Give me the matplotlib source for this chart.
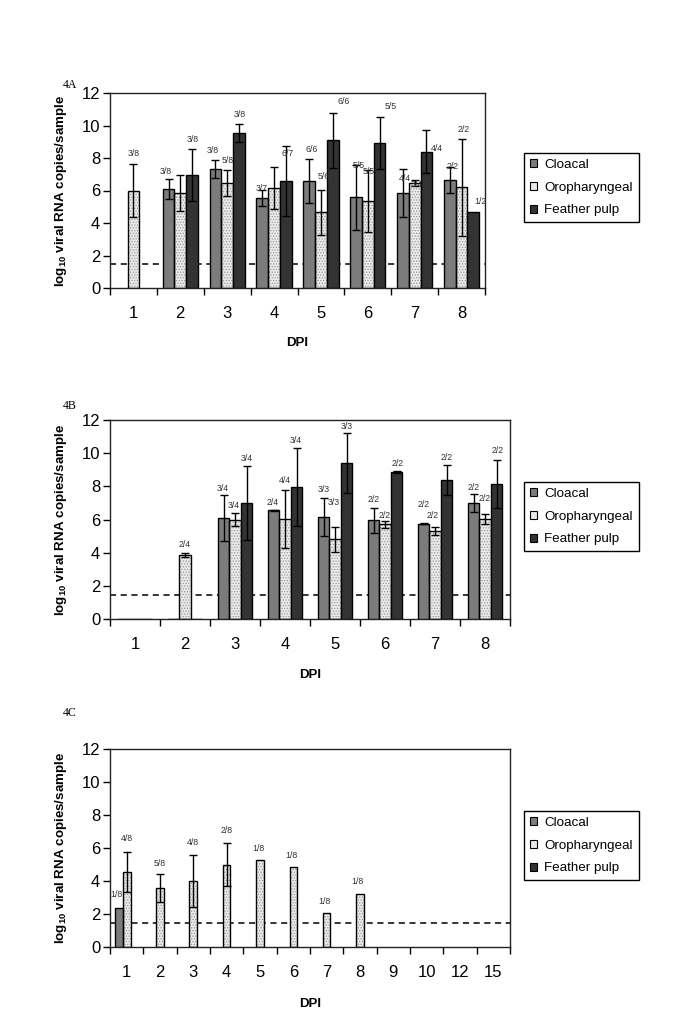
import numpy as np
import matplotlib
matplotlib.use("Agg")
import matplotlib.pyplot as plt
from matplotlib.patches import Patch

plt.rcParams['font.family'] = ['Liberation Sans', 'DejaVu Sans']
plt.rcParams['mathtext.fontset'] = 'custom'
plt.rcParams['mathtext.bf'] = 'Liberation Sans:bold'
plt.rcParams['mathtext.rm'] = 'Liberation Sans'
plt.rcParams['hatch.linewidth'] = 0.6

nan = np.nan

# ---------------- data ----------------
series = ["Cloacal", "Oropharyngeal", "Feather pulp"]
detect_limit = 1.45

# 4A
days_a = ['1', '2', '3', '4', '5', '6', '7', '8']
cloacal_a = [nan, 6.1, 7.3, 5.55, 6.6, 5.6, 5.85, 6.65]
cloacal_a_err = [nan, 0.6, 0.55, 0.5, 1.35, 2.0, 1.5, 0.8]
oro_a = [6.0, 5.85, 6.45, 6.15, 4.65, 5.35, 6.45, 6.2]
oro_a_err = [1.65, 1.1, 0.8, 1.3, 1.4, 1.9, 0.2, 3.0]
feather_a = [nan, 6.95, 9.55, 6.6, 9.1, 8.95, 8.4, 4.7]
feather_a_err = [nan, 1.6, 0.55, 2.15, 1.7, 1.6, 1.3, nan]
lab_a = ["3/8", "3/8", "3/8", "3/8", "5/8", "3/8", "3/7", "6/7", "6/6", "5/6",
         "6/6", "5/5", "5/5", "5/5", "4/4", "3/4", "4/4", "2/2", "2/2", "1/2"]
lab_a_x = [0.0, 0.69, 1.26, 1.69, 2.01, 2.26, 2.73, 3.3, 3.8, 4.05,
           4.48, 4.8, 5.01, 5.48, 5.8, 6.05, 6.48, 6.8, 7.05, 7.41]
lab_a_y = [8.28, 7.15, 9.14, 8.48, 7.83, 10.69, 6.13, 8.28, 8.54, 6.89,
           11.45, 7.56, 7.15, 11.18, 6.75, 6.34, 8.59, 7.5, 9.75, 5.31]

# 4B
days_b = ['1', '2', '3', '4', '5', '6', '7', '8']
cloacal_b = [0, 0, 6.1, 6.55, 6.15, 5.95, 5.75, 7.0]
cloacal_b_err = [nan, nan, 1.4, 0.05, 1.15, 0.75, 0.05, 0.55]
oro_b = [0, 3.85, 6.0, 6.05, 4.8, 5.7, 5.3, 6.05]
oro_b_err = [nan, 0.1, 0.4, 1.75, 0.75, 0.2, 0.25, 0.3]
feather_b = [0, 0, 7.0, 7.95, 9.4, 8.85, 8.4, 8.15]
feather_b_err = [nan, nan, 2.25, 2.35, 1.8, 0.05, 0.9, 1.45]
lab_b = ["2/4", "3/4", "3/4", "3/4", "2/4", "4/4", "3/4", "3/3", "3/3", "3/3",
         "2/2", "2/2", "2/2", "2/2", "2/2", "2/2", "2/2", "2/2", "2/2"]
lab_b_x = [1.0, 1.76, 1.98, 2.23, 2.76, 2.99, 3.21, 3.78, 3.98, 4.23,
           4.78, 5.0, 5.25, 5.78, 5.96, 6.23, 6.77, 7.0, 7.25]
lab_b_y = [4.5, 7.88, 6.87, 9.69, 7.02, 8.34, 10.79, 7.78, 7.02, 11.6,
           7.18, 6.23, 9.39, 6.91, 6.27, 9.73, 7.94, 7.28, 10.15]

# 4C
days_c = ['1', '2', '3', '4', '5', '6', '7', '8', '9', '10', '12', '15']
cloacal_c = [2.35, nan, nan, nan, nan, nan, nan, nan, nan, nan, nan, nan]
cloacal_c_err = [nan] * 12
oro_c = [4.55, 3.55, 4.0, 5.0, 5.25, 4.85, 2.05, 3.2, nan, nan, nan, nan]
oro_c_err = [1.2, 0.85, 1.55, 1.3, nan, nan, nan, nan, nan, nan, nan, nan]
feather_c = [nan] * 12
feather_c_err = [nan] * 12
lab_c = ["1/8", "4/8", "5/8", "4/8", "2/8", "1/8", "1/8", "1/8", "1/8"]
lab_c_x = [-0.3, 0.0, 1.0, 1.98, 3.0, 3.95, 4.95, 5.93, 6.93]
lab_c_y = [3.18, 6.58, 5.06, 6.31, 7.08, 5.97, 5.56, 2.77, 3.95]

# ---------------- style ----------------
W, H = 685, 1026
col_clo = '#7c7c7c'
col_oro = '#e9e9e9'
col_fea = '#333333'

fig = plt.figure(figsize=(W / 100, H / 100), dpi=100)


def make_axes(left, right, top, bottom):
    return fig.add_axes([left / W, 1 - bottom / H, (right - left) / W, (bottom - top) / H])


def panel(ax, days, vals, errs, width, labs, lab_x, lab_y, xlab_off):
    n = len(days)
    x = np.arange(n)
    offs = [-width, 0, width]
    cols = [col_clo, col_oro, col_fea]
    for k in range(3):
        v = np.array(vals[k], dtype=float)
        e = np.array(errs[k], dtype=float)
        xs = x + offs[k]
        if k == 1:
            ax.bar(xs, v, width, color=col_oro, edgecolor='#9a9a9a', hatch='......',
                   linewidth=0, zorder=2)
            ax.bar(xs, v, width, color='none', edgecolor='black', linewidth=1.0, zorder=3)
        else:
            ax.bar(xs, v, width, color=cols[k], edgecolor='black', linewidth=1.0, zorder=3)
        m = ~np.isnan(e) & ~np.isnan(v)
        if m.any():
            ax.errorbar(xs[m], v[m], yerr=e[m], fmt='none', ecolor='black',
                        elinewidth=1.0, capsize=3, capthick=1.0, zorder=4)
    for t, lx, ly in zip(labs, lab_x, lab_y):
        ax.text(lx, ly, t, fontsize=6.3, color='#333333', ha='center', va='center', zorder=5)
    ax.axhline(detect_limit, color='black', linestyle=(0, (4, 3)), linewidth=1.1, zorder=1)
    ax.set_xlim(-0.5, n - 0.5)
    ax.set_ylim(0, 12)
    ax.set_yticks(range(0, 13, 2))
    ax.set_xticks(np.arange(n + 1) - 0.5)
    ax.set_xticklabels([])
    ax.set_xticks(x, minor=True)
    ax.set_xticklabels(days, minor=True)
    ax.tick_params(axis='x', which='major', direction='out', length=5, width=1)
    ax.tick_params(axis='x', which='minor', length=0, pad=13, labelsize=12)
    ax.tick_params(axis='y', direction='out', length=5, width=1, pad=2, labelsize=12)
    for s in ax.spines.values():
        s.set_linewidth(1.0)
        s.set_color('#222222')
    ax.set_ylabel(r'log$_{\mathbf{10}}$ viral RNA copies/sample', fontsize=9.6,
                  fontweight='bold')
    ax.set_xlabel('DPI', fontsize=9.5, fontweight='bold')
    bb = ax.get_position()
    ax.yaxis.set_label_coords(-41 / (bb.width * W), 0.5)
    ax.xaxis.set_label_coords(0.5, -xlab_off / (bb.height * H))


ax_a = make_axes(110, 485, 93, 288)
panel(ax_a, days_a, [cloacal_a, oro_a, feather_a], [cloacal_a_err, oro_a_err, feather_a_err],
      0.25, lab_a, lab_a_x, lab_a_y, 49)

ax_b = make_axes(110, 510, 420, 619)
panel(ax_b, days_b, [cloacal_b, oro_b, feather_b], [cloacal_b_err, oro_b_err, feather_b_err],
      0.23, lab_b, lab_b_x, lab_b_y, 50)

ax_c = make_axes(110, 510, 749, 947)
panel(ax_c, days_c, [cloacal_c, oro_c, feather_c], [cloacal_c_err, oro_c_err, feather_c_err],
      0.23, lab_c, lab_c_x, lab_c_y, 51)

handles = [Patch(facecolor=col_clo, edgecolor='black', linewidth=0.8),
           Patch(facecolor=col_oro, edgecolor='black', linewidth=0.8),
           Patch(facecolor=col_fea, edgecolor='black', linewidth=0.8)]
for top in [153, 482, 811]:
    leg = fig.legend(handles, series, loc='upper left', bbox_to_anchor=(524 / W, 1 - top / H),
                     borderaxespad=0, fontsize=9.6, handlelength=0.55, handleheight=0.55,
                     handletextpad=0.5, labelspacing=0.8, borderpad=0.45, fancybox=False,
                     framealpha=1, edgecolor='black')
    leg.get_frame().set_linewidth(1.0)

for lab, y in [("4A", 85), ("4B", 406), ("4C", 713)]:
    fig.text(63 / W, 1 - y / H, lab, fontsize=8.5, family='Liberation Serif', va='center', ha='left')

fig.savefig("out.png", dpi=100)
